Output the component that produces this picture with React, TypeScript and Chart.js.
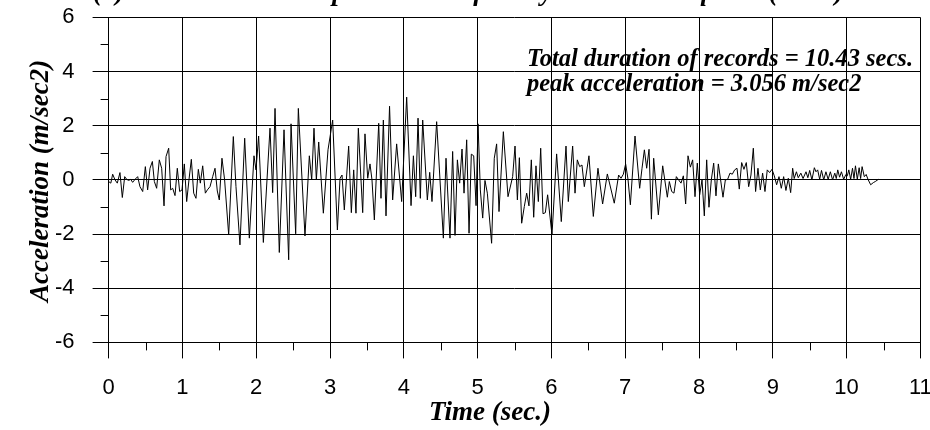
import React, { useEffect, useRef } from "react";
import { Chart, registerables } from "chart.js";

Chart.register(...registerables);

// ---- data (time in s, acceleration in m/sec2) ----
const timeSec: number[] = [
  0.0, 0.03, 0.055, 0.087, 0.118, 0.154, 0.186, 0.218, 0.245, 0.272, 0.299, 0.326, 0.358, 0.394, 0.425, 0.462,
  0.498, 0.529, 0.561, 0.593, 0.62, 0.651, 0.687, 0.719, 0.751, 0.778, 0.814, 0.841, 0.868, 0.9, 0.931, 0.963,
  0.995, 1.026, 1.058, 1.089, 1.121, 1.153, 1.184, 1.216, 1.243, 1.275, 1.311, 1.338, 1.374, 1.41, 1.442, 1.473,
  1.5, 1.536, 1.572, 1.627, 1.69, 1.726, 1.78,
  1.844, 1.907, 1.97, 1.997, 2.033, 2.097, 2.187, 2.223, 2.255, 2.313, 2.377, 2.44, 2.472, 2.535, 2.571, 2.661,
  2.72, 2.752, 2.783, 2.815, 2.847, 2.91, 2.973, 3.036, 3.1, 3.136, 3.163, 3.194, 3.253, 3.289, 3.321, 3.352,
  3.384, 3.443, 3.474, 3.511, 3.542, 3.569, 3.601, 3.66, 3.691, 3.723, 3.759, 3.807,
  3.849, 3.903, 3.971, 4.039, 4.098, 4.13, 4.161, 4.193, 4.224, 4.256, 4.319, 4.351, 4.382, 4.445, 4.536, 4.572,
  4.626, 4.662, 4.694, 4.726, 4.757, 4.789, 4.816, 4.852, 4.884, 4.915, 4.947, 4.979, 5.006, 5.037, 5.069, 5.1,
  5.132, 5.19, 5.226, 5.258, 5.29, 5.349, 5.412, 5.475, 5.507, 5.539, 5.566, 5.597,
  5.633, 5.665, 5.696, 5.728, 5.76, 5.791, 5.823, 5.855, 5.886, 5.918, 5.949, 6.008, 6.071, 6.134, 6.198, 6.229,
  6.288, 6.32, 6.351, 6.383, 6.414, 6.446, 6.509, 6.568, 6.631, 6.694, 6.758, 6.852, 6.911, 6.943, 6.975, 7.006,
  7.038, 7.07, 7.133, 7.196, 7.228, 7.26, 7.291, 7.323, 7.355, 7.386, 7.449, 7.508, 7.571,
  7.598, 7.63, 7.661, 7.693, 7.724, 7.756, 7.788, 7.819, 7.851, 7.883, 7.914, 7.946, 7.977, 8.009, 8.041, 8.072,
  8.104, 8.135, 8.167, 8.199, 8.23, 8.262, 8.293, 8.325, 8.357, 8.388, 8.42, 8.451, 8.483, 8.515, 8.546, 8.578,
  8.609, 8.641, 8.673, 8.704, 8.736, 8.767, 8.799, 8.831, 8.862, 8.894, 8.925, 8.957, 8.989, 9.02, 9.052, 9.084,
  9.115, 9.147, 9.178, 9.21, 9.242,
  9.269, 9.29, 9.32, 9.345, 9.38, 9.41, 9.45, 9.475, 9.5, 9.53, 9.563, 9.585, 9.608, 9.635, 9.66, 9.69,
  9.72, 9.75, 9.78, 9.81, 9.84, 9.86, 9.88, 9.905, 9.93, 9.96, 9.99, 10.01, 10.03, 10.055, 10.08, 10.1,
  10.12, 10.145, 10.17, 10.19, 10.21, 10.24, 10.265, 10.29, 10.326, 10.362, 10.389, 10.43,
];

const accel: number[] = [
  -0.06, -0.12, 0.21, 0.0, -0.12, 0.27, -0.65, 0.12, 0.02, -0.02, 0.02, -0.09, 0.02, 0.12, -0.25, -0.43,
  0.49, -0.37, 0.43, 0.68, -0.06, -0.31, 0.74, 0.43, -0.96, 0.86, 1.17, -0.37, -0.31, -0.58, 0.43, -0.43,
  -0.37, 0.59, -0.8, 0.0, 0.76, -0.49, -0.68, 0.39, -0.12, 0.52, -0.49, -0.37, -0.25, 0.12, 0.43, -0.41,
  -0.74, 0.8, 0.0, -2.03, 1.6, -0.25, -2.4,
  1.54, -2.15, 0.89, 0.37, 1.62, -2.31, 1.91, -0.47, 2.64, -2.68, 1.85, -2.95, 2.07, -1.99, 2.64, -2.07,
  0.89, 0.0, 1.91, 0.0, 1.4, -1.23, 1.11, 2.21, -1.85, 0.06, 0.18, -1.11, 1.25, -1.21, 0.37, -1.23,
  1.91, -1.21, 1.7, 0.06, 0.59, 0.0, -1.48, 2.09, -0.68, 2.21, -1.33, 2.72,
  -0.74, 1.33, -0.8, 3.056, -0.95, 0.89, -0.62, 2.28, -0.68, 2.21, -0.74, 0.28, -0.8, 2.15, -2.15, 0.8,
  -2.15, 1.05, -2.05, 0.74, -0.12, 1.14, -0.49, 1.48, -1.97, 0.95, 0.89, -0.95, 2.07, -0.37, -1.41, -0.02,
  -0.49, -2.34, 0.8, 1.33, -1.17, 1.78, -0.62, 0.12, 1.25, -0.74, 0.82, -1.6,
  -0.98, -0.49, -0.96, 0.74, -1.38, 0.52, -0.8, 1.17, -1.25, -1.21, -0.55, -2.03, 0.96, -1.54, 1.25, -0.8,
  1.25, -0.49, 0.74, 0.49, 0.55, -0.25, 0.89, -1.35, 0.43, -0.89, 0.22, -0.86, 0.18, 0.06, 0.21, 0.59,
  0.02, -0.92, 1.62, -0.31, 0.43, 1.11, 0.43, 1.13, -1.45, 0.8, -1.29, 0.52, -0.64,
  -0.06, -0.43, -0.49, 0.12, 0.0, -0.12, 0.15, -0.89, 0.89, 0.47, 0.74, -0.62, 0.62, -0.55, 0.0, -1.33,
  0.74, -1.01, 0.0, 0.62, -0.59, 0.59, 0.0, -0.64, 0.0, 0.02, 0.25, 0.21, 0.37, 0.43, -0.34, 0.64,
  0.39, 0.64, -0.25, 0.18, 1.17, -0.43, 0.43, -0.37, 0.25, -0.43, 0.37, 0.27, 0.39, 0.15, -0.18, 0.12,
  -0.31, 0.12, -0.39, 0.06, -0.47,
  0.43, 0.05, 0.3, 0.08, 0.25, 0.05, 0.3, 0.08, 0.35, 0.0, 0.45, 0.3, 0.37, 0.02, 0.35, 0.0,
  0.3, 0.02, 0.3, 0.0, 0.25, 0.05, 0.37, 0.1, 0.3, 0.02, 0.2, 0.15, 0.37, 0.02, 0.43, 0.05,
  0.52, 0.02, 0.45, 0.05, 0.49, 0.12, 0.2, 0.02, -0.18, -0.1, -0.06, 0.02,
];

const xMajorTicks: number[] = [0, 1, 2, 3, 4, 5, 6, 7, 8, 9, 10, 11];
const xMinorTicks: number[] = [0.5, 1.5, 2.5, 3.5, 4.5, 5.5, 6.5, 7.5, 8.5, 9.5, 10.5];
const yMajorTicks: number[] = [-6, -4, -2, 0, 2, 4, 6];
const yMinorTicks: number[] = [-5, -3, -1, 1, 3, 5];

const titleText = "(b) Measured table input motion of the synthetic earthquake (Kobe)";
const noteLines: string[] = [
  "Total duration of records = 10.43 secs.",
  "peak acceleration = 3.056 m/sec2",
];
const xTitle = "Time (sec.)";
const yTitle = "Acceleration (m/sec2)";

const SERIF = "'Liberation Serif', 'Times New Roman', serif";
const SANS = "'Liberation Sans', Arial, sans-serif";

const extrasPlugin = {
  id: "extras",
  afterDraw(chart: any) {
    const { ctx, chartArea, scales } = chart;
    const xs = scales.x;
    const ys = scales.y;
    ctx.save();
    ctx.strokeStyle = "#000";
    ctx.lineWidth = 1;
    ctx.beginPath();
    for (const v of xMinorTicks) {
      const px = Math.round(xs.getPixelForValue(v)) + 0.5;
      ctx.moveTo(px, chartArea.bottom);
      ctx.lineTo(px, chartArea.bottom + 8);
    }
    for (const v of yMinorTicks) {
      const py = Math.round(ys.getPixelForValue(v)) + 0.5;
      ctx.moveTo(chartArea.left - 8, py);
      ctx.lineTo(chartArea.left, py);
    }
    ctx.stroke();

    ctx.fillStyle = "#000";
    ctx.textBaseline = "alphabetic";
    ctx.font = `italic bold 24.5px ${SERIF}`;
    ctx.textAlign = "left";
    ctx.fillText(noteLines[0], 527, 66);
    ctx.fillText(noteLines[1], 527, 91);

    // figure caption, cut off by the top of the picture
    ctx.font = `italic bold 27px ${SERIF}`;
    ctx.textAlign = "left";
    ctx.fillText(titleText, 93, 0);

    // axis titles
    ctx.font = `italic bold 27px ${SERIF}`;
    ctx.textAlign = "center";
    ctx.textBaseline = "middle";
    ctx.fillText(xTitle, 490, 413);

    ctx.save();
    ctx.translate(41, (chartArea.top + chartArea.bottom) / 2 + 1);
    ctx.rotate(-Math.PI / 2);
    ctx.fillText(yTitle, 0, 0);
    ctx.restore();

    ctx.restore();
  },
};

export default function App() {
  const ref = useRef<HTMLCanvasElement | null>(null);

  useEffect(() => {
    if (!ref.current) return;
    const points = timeSec.map((t, i) => ({ x: t, y: accel[i] }));
    const chart = new Chart(ref.current, {
      type: "line",
      data: {
        datasets: [
          {
            data: points,
            borderColor: "#000",
            borderWidth: 1,
            pointRadius: 0,
            tension: 0,
            fill: false,
          },
        ],
      },
      options: {
        responsive: false,
        animation: false,
        devicePixelRatio: 1,
        events: [],
        layout: { padding: { left: 0, right: 39.6, top: 17.4, bottom: 0 } },
        plugins: { legend: { display: false }, tooltip: { enabled: false }, title: { display: false } },
        scales: {
          x: {
            type: "linear",
            min: 0,
            max: 11,
            afterBuildTicks: (scale: any) => {
              scale.ticks = xMajorTicks.map((v) => ({ value: v }));
            },
            afterFit: (scale: any) => {
              scale.height = 87.6;
              scale.paddingLeft = 0;
              scale.paddingRight = 0;
            },
            ticks: {
              color: "#000",
              font: { family: SANS, size: 22 },
              padding: 16,
              maxRotation: 0,
              autoSkip: false,
            },
            grid: { color: "#000", lineWidth: 1, tickLength: 16, tickColor: "#000" },
            border: { color: "#000", width: 1 },
            title: { display: false },
          },
          y: {
            type: "linear",
            min: -6,
            max: 6,
            afterBuildTicks: (scale: any) => {
              scale.ticks = yMajorTicks.map((v) => ({ value: v }));
            },
            afterFit: (scale: any) => {
              scale.width = 108.6;
              scale.paddingTop = 0;
              scale.paddingBottom = 0;
            },
            ticks: {
              color: "#000",
              font: { family: SANS, size: 22 },
              padding: 18,
            },
            grid: { color: "#000", lineWidth: 1, tickLength: 16, tickColor: "#000" },
            border: { color: "#000", width: 1 },
            title: { display: false },
          },
        },
      },
      plugins: [extrasPlugin],
    });
    return () => chart.destroy();
  }, []);

  return (
    <div
      style={{
        position: "fixed",
        left: 0,
        top: 0,
        width: 930,
        height: 430,
        overflow: "hidden",
        background: "#fff",
      }}
    >
      <canvas ref={ref} width={960} height={430} style={{ display: "block", width: 960, height: 430 }} />
    </div>
  );
}
